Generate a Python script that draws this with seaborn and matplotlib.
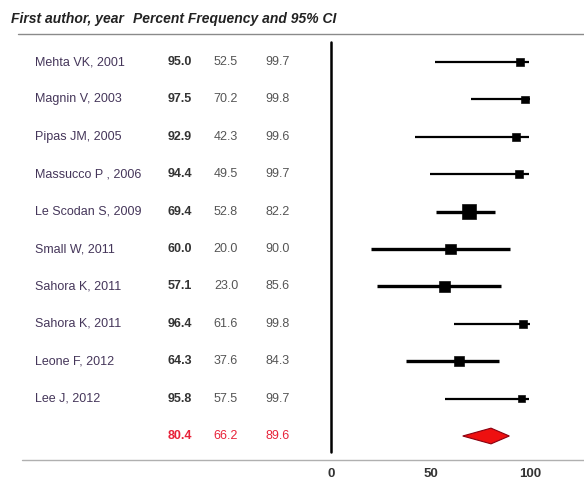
import matplotlib
matplotlib.use("Agg")
import matplotlib.pyplot as plt
import seaborn as sns
import pandas as pd

# ---- data ----
authors = ["Mehta VK, 2001", "Magnin V, 2003", "Pipas JM, 2005", "Massucco P , 2006",
           "Le Scodan S, 2009", "Small W, 2011", "Sahora K, 2011", "Sahora K, 2011",
           "Leone F, 2012", "Lee J, 2012"]
estimates = [95.0, 97.5, 92.9, 94.4, 69.4, 60.0, 57.1, 96.4, 64.3, 95.8]
lowers = [52.5, 70.2, 42.3, 49.5, 52.8, 20.0, 23.0, 61.6, 37.6, 57.5]
uppers = [99.7, 99.8, 99.6, 99.7, 82.2, 90.0, 85.6, 99.8, 84.3, 99.7]
weights = [1, 1, 1, 1, 4, 2, 2, 1, 2, 1]
pooled = [80.4, 66.2, 89.6]
xticks = [0, 50, 100]
header_left = "First author, year"
header_right = "Percent Frequency and 95% CI"

sns.set_theme(style="white")
plt.rcParams['font.family'] = ['Liberation Sans', 'DejaVu Sans']

W, H = 584, 482
fig = plt.figure(figsize=(W / 100, H / 100), dpi=100)
ax = fig.add_axes([0, 0, 1, 1])

X0, PX = 331, 1.99          # pixel of 0 and pixels per unit
Y0, DY = 62, 37.4           # pixel of first row and row spacing

def xp(px):
    return (px - X0) / PX

def yp(py):
    return (py - Y0) / DY

n = len(authors)
df = pd.DataFrame({"row": list(range(n)), "est": estimates, "lo": lowers,
                   "hi": uppers, "w": weights})

# CI lines
for _, r in df.iterrows():
    ax.plot([r.lo, r.hi], [r.row, r.row], color="black",
            lw=1.6 if r.w == 1 else 2.4, solid_capstyle="butt", zorder=2)

# squares
size_map = {1: 30, 2: 58, 4: 110}
sns.scatterplot(data=df, x="est", y="row", size="w", sizes=size_map, marker="s",
                color="black", edgecolor="black", legend=False, ax=ax, zorder=3)

# pooled diamond
ys = n
dh = 0.21
ax.fill([pooled[1], pooled[0], pooled[2], pooled[0]],
        [ys, ys - dh, ys, ys + dh], facecolor="#ee1010", edgecolor="#8a0010",
        lw=0.8, zorder=3)

# vertical zero line
ax.plot([0, 0], [yp(42), yp(452)], color="black", lw=1.8, zorder=2)

# horizontal rules
ax.plot([xp(18), xp(W)], [yp(34), yp(34)], color="#8a8a8a", lw=1.0)
ax.plot([xp(22), xp(W)], [yp(460), yp(460)], color="#b0b0b0", lw=1.0)

# header
ax.text(xp(11), yp(19), header_left, fontsize=10, fontweight="bold",
        fontstyle="italic", color="#222222", va="center", ha="left")
ax.text(xp(133), yp(19), header_right, fontsize=10, fontweight="bold",
        fontstyle="italic", color="#222222", va="center", ha="left")

# rows text
for i in range(n):
    ax.text(xp(35), i, authors[i], fontsize=9, color="#45365a", va="center", ha="left")
    ax.text(xp(180), i, f"{estimates[i]:.1f}", fontsize=9, fontweight="bold",
            color="#333333", va="center", ha="center")
    ax.text(xp(226), i, f"{lowers[i]:.1f}", fontsize=9, color="#555555",
            va="center", ha="center")
    ax.text(xp(278), i, f"{uppers[i]:.1f}", fontsize=9, color="#555555",
            va="center", ha="center")

red = "#e8233a"
ax.text(xp(180), n, f"{pooled[0]:.1f}", fontsize=9, fontweight="bold", color=red,
        va="center", ha="center")
ax.text(xp(226), n, f"{pooled[1]:.1f}", fontsize=9, color=red, va="center", ha="center")
ax.text(xp(278), n, f"{pooled[2]:.1f}", fontsize=9, color=red, va="center", ha="center")

# tick labels
for t in xticks:
    ax.text(t, yp(474), str(t), fontsize=9.5, fontweight="bold", color="#333333",
            va="center", ha="center")

ax.set_xlim(xp(0), xp(W))
ax.set_ylim(yp(H), yp(0))
ax.axis("off")

fig.savefig("out.png", dpi=100)
